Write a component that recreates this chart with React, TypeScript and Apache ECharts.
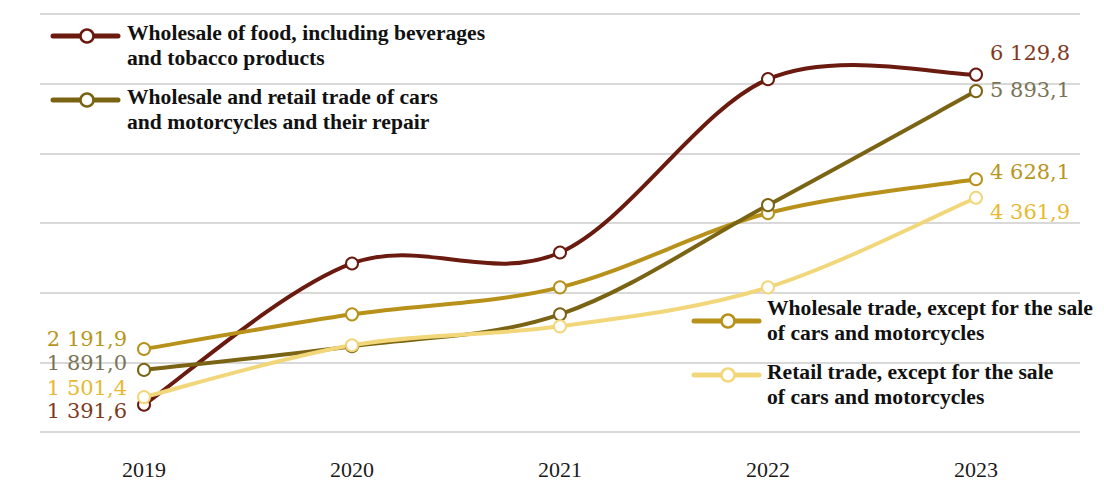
import React, { useEffect, useRef } from "react";
import * as echarts from "echarts";

const years = ["2019", "2020", "2021", "2022", "2023"];
const foodValues = [1391.6, 3419, 3577, 6065, 6129.8];
const carsValues = [1891.0, 2231, 2689, 4257, 5893.1];
const wholesaleValues = [2191.9, 2689, 3076, 4142, 4628.1];
const retailValues = [1501.4, 2245, 2517, 3076, 4361.9];

const seriesNames = [
  "Wholesale of food, including beverages\nand tobacco products",
  "Wholesale and retail trade of cars\nand motorcycles and their repair",
  "Wholesale trade, except for the sale\nof cars and motorcycles",
  "Retail trade, except for the sale\nof cars and motorcycles",
];

const lineColors = ["#6B1A10", "#7A6414", "#B8911A", "#F2D77A"];
const labelColors = ["#7F3A1E", "#7A7456", "#B8961E", "#E8B830"];

function fmt(v: number): string {
  const s = v.toFixed(1);
  const [intPart, dec] = s.split(".");
  const withSpaces = intPart.replace(/\B(?=(\d{3})+(?!\d))/g, " ");
  return withSpaces + "," + dec;
}

function buildData(values: number[], color: string, firstOffset: number[], lastOffset: number[]) {
  return values.map((v, i) => {
    if (i === 0) {
      return {
        value: v,
        label: { show: true, position: "left", distance: 10, offset: firstOffset, color },
      };
    }
    if (i === values.length - 1) {
      return {
        value: v,
        label: { show: true, position: "right", distance: 7, offset: lastOffset, color },
      };
    }
    return { value: v };
  });
}

function legendItem(x: number, y: number, textX: number, textY: number, color: string, text: string) {
  return [
    {
      type: "line",
      shape: { x1: x, y1: y, x2: x + 65, y2: y },
      style: { stroke: color, lineWidth: 5, lineCap: "round" },
    },
    {
      type: "circle",
      shape: { cx: x + 34, cy: y, r: 6.5 },
      style: { fill: "#ffffff", stroke: color, lineWidth: 2.5 },
    },
    {
      type: "text",
      x: textX,
      y: textY,
      style: {
        text,
        fontFamily: "Liberation Serif",
        fontSize: 21.6,
        fontWeight: "bold",
        fill: "#111111",
        lineHeight: 25,
        verticalAlign: "top",
        align: "left",
      },
    },
  ];
}

function smoothCurveSeries(values: number[], color: string, z: number) {
  return {
    type: "custom",
    z,
    silent: true,
    data: values.map((v, i) => [i, v]),
    renderItem: (params: any, api: any) => {
      const i = params.dataIndex;
      const n = values.length;
      if (i >= n - 1) return null;
      const pt = (k: number) => {
        const kk = Math.max(0, Math.min(n - 1, k));
        return api.coord([kk, values[kk]]);
      };
      const p0 = pt(i - 1);
      const p1 = pt(i);
      const p2 = pt(i + 1);
      const p3 = pt(i + 2);
      return {
        type: "bezierCurve",
        shape: {
          x1: p1[0],
          y1: p1[1],
          x2: p2[0],
          y2: p2[1],
          cpx1: p1[0] + (p2[0] - p0[0]) / 6,
          cpy1: p1[1] + (p2[1] - p0[1]) / 6,
          cpx2: p2[0] - (p3[0] - p1[0]) / 6,
          cpy2: p2[1] - (p3[1] - p1[1]) / 6,
        },
        style: { stroke: color, lineWidth: 4, fill: "none", lineCap: "round" },
      };
    },
  };
}

export default function App() {
  const ref = useRef<HTMLDivElement>(null);

  useEffect(() => {
    if (!ref.current) return;
    const chart = echarts.init(ref.current, null, { renderer: "svg" });

    const makeSeries = (idx: number, values: number[], fo: number[], lo: number[], z: number) => ({
      name: seriesNames[idx],
      type: "line",
      data: buildData(values, labelColors[idx], fo, lo),
      symbol: "emptyCircle",
      symbolSize: 12,
      z,
      lineStyle: { color: lineColors[idx], width: 0, opacity: 0 },
      itemStyle: { color: lineColors[idx], borderColor: lineColors[idx], borderWidth: 2 },
      label: {
        fontFamily: "'DejaVu Serif', serif",
        fontSize: 21,
        lineHeight: 21,
        formatter: (p: any) => fmt(p.value),
      },
    });

    chart.setOption({
      animation: false,
      backgroundColor: "#ffffff",
      grid: { left: 40, right: 24, top: 14, bottom: 50 },
      xAxis: {
        type: "category",
        data: years,
        boundaryGap: true,
        axisLine: { show: false },
        axisTick: { show: false },
        axisLabel: {
          margin: 26,
          fontFamily: "'Liberation Serif', serif",
          fontSize: 22,
          color: "#1a1a1a",
        },
      },
      yAxis: {
        type: "value",
        min: 1000,
        max: 7000,
        interval: 1000,
        axisLine: { show: false },
        axisTick: { show: false },
        axisLabel: { show: false },
        splitLine: { lineStyle: { color: "#d9d9d9", width: 2 } },
      },
      series: [
        smoothCurveSeries(foodValues, lineColors[0], 2),
        smoothCurveSeries(wholesaleValues, lineColors[2], 3),
        smoothCurveSeries(carsValues, lineColors[1], 4),
        smoothCurveSeries(retailValues, lineColors[3], 5),
        makeSeries(0, foodValues, [0, 6], [0, -22], 10),
        makeSeries(2, wholesaleValues, [0, -10], [0, -7], 11),
        makeSeries(1, carsValues, [0, -7], [0, -1], 12),
        makeSeries(3, retailValues, [0, -9], [0, 14], 13),
      ],
      graphic: [
        ...legendItem(53, 36, 127, 20.5, lineColors[0], seriesNames[0]),
        ...legendItem(53, 100, 127, 84.5, lineColors[1], seriesNames[1]),
        ...legendItem(694, 321, 767, 295.5, lineColors[2], seriesNames[2]),
        ...legendItem(694, 375, 767, 359.5, lineColors[3], seriesNames[3]),
      ],
    });

    return () => chart.dispose();
  }, []);

  return <div ref={ref} style={{ width: 1104, height: 482, position: "absolute", left: 0, top: 0 }} />;
}
